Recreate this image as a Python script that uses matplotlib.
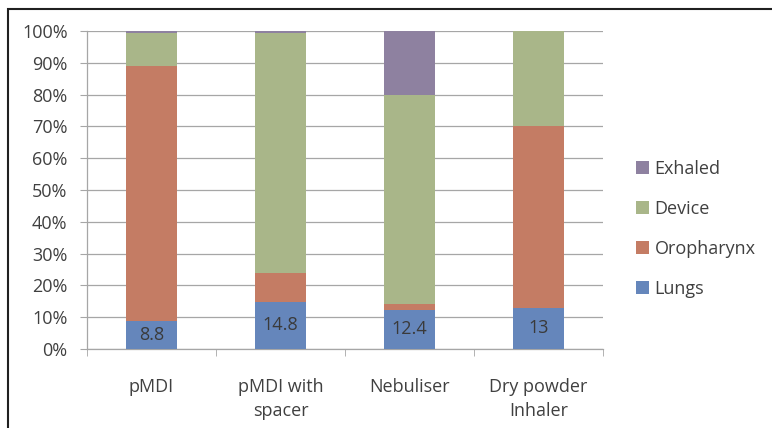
import numpy as np
import matplotlib
matplotlib.use("Agg")
import matplotlib.pyplot as plt
from matplotlib.patches import Rectangle
from matplotlib.ticker import FixedLocator, PercentFormatter

# data (percent of dose)
devices = ["pMDI", "pMDI with\nspacer", "Nebuliser", "Dry powder\nInhaler"]
lungs = [8.8, 14.8, 12.4, 13.0]
oropharynx = [80.2, 9.0, 1.8, 57.0]
device = [10.5, 75.7, 65.8, 30.0]
exhaled = [0.5, 0.5, 20.0, 0.0]
lung_labels = ["8.8", "14.8", "12.4", "13"]

plt.rcParams["font.family"] = ["Open Sans", "DejaVu Sans"]
txt_col = "#404040"
grid_col = "#a6a6a6"
fs = 13

fig = plt.figure(figsize=(7.72, 4.28), dpi=100)
ax = fig.add_axes([87 / 772, 1 - 349 / 428, (603 - 87) / 772, (349 - 31) / 428])

x = np.arange(len(devices))
w = 0.40
series = [
    ("Lungs", lungs, "#6586bb"),
    ("Oropharynx", oropharynx, "#c47c64"),
    ("Device", device, "#a9b689"),
    ("Exhaled", exhaled, "#8e81a0"),
]
bottom = np.zeros(len(devices))
handles = []
for name, vals, col in series:
    b = ax.bar(x, vals, w, bottom=bottom, color=col, label=name, zorder=3)
    handles.append(b)
    bottom += np.array(vals)

# value labels in lungs segment
for xi, v, lab in zip(x, lungs, lung_labels):
    ax.text(xi, v / 2, lab, ha="center", va="center", fontsize=fs, color="#3a3a3a", zorder=4)

ax.set_xlim(-0.5, len(devices) - 0.5)
ax.set_ylim(0, 100)
ax.yaxis.set_major_locator(FixedLocator(np.arange(0, 101, 10)))
ax.yaxis.set_major_formatter(PercentFormatter(decimals=0))
ax.grid(axis="y", color=grid_col, lw=0.9, zorder=0)
ax.set_xticks(x)
ax.set_xticklabels(devices, linespacing=1.45)
ax.xaxis.set_minor_locator(FixedLocator(np.arange(-0.5, len(devices), 1.0)))
ax.tick_params(axis="x", which="major", length=0, pad=21, labelsize=fs, colors=txt_col)
ax.tick_params(axis="x", which="minor", length=5, color=grid_col, direction="out")
ax.tick_params(axis="y", length=5, color=grid_col, labelsize=fs, colors=txt_col, pad=9)
ax.tick_params(axis="y", color=grid_col)
for s in ["top", "right"]:
    ax.spines[s].set_visible(False)
for s in ["left", "bottom"]:
    ax.spines[s].set_color(grid_col)
    ax.spines[s].set_linewidth(0.9)

leg = fig.legend(handles[::-1], [s[0] for s in series][::-1],
                 loc="center left", bbox_to_anchor=(636 / 772, 1 - 229 / 428),
                 frameon=False, fontsize=fs, handlelength=0.72, handleheight=0.72,
                 handletextpad=0.3, labelspacing=1.22, borderpad=0, borderaxespad=0)
for t in leg.get_texts():
    t.set_color(txt_col)

# outer chart frame (cropped on right and bottom)
fig.patches.append(Rectangle((8 / 772, -0.2), 1.5, 1.2 - 9 / 428, transform=fig.transFigure,
                             fill=False, edgecolor="#202020", lw=1.5))

fig.savefig("out.png", dpi=100)
